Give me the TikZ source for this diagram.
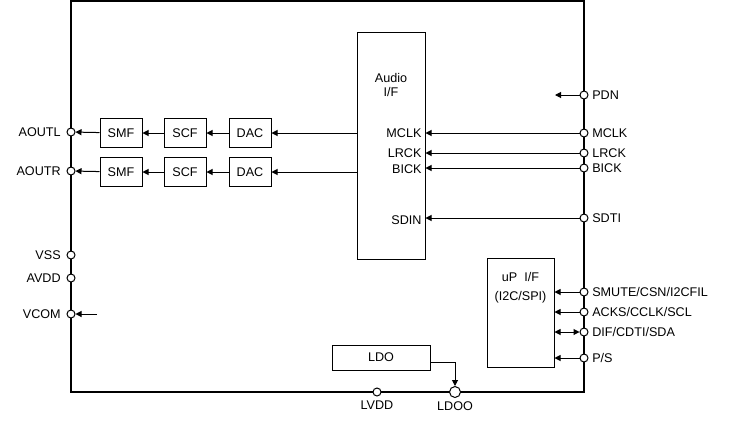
\documentclass[tikz,border=0pt]{standalone}
\usepackage{fontspec}
\setmainfont{Liberation Sans}
\usetikzlibrary{arrows.meta}

\begin{document}
\begin{tikzpicture}[x=1pt, y=-1pt, line width=1pt,
  every node/.style={font=\fontsize{12.6}{15}\selectfont},
  >={Triangle[length=6pt,width=6pt]},
  blk/.style={draw, minimum width=42pt, minimum height=29pt, inner sep=0pt},
  pinc/.style={draw, circle, fill=white, minimum size=8pt, inner sep=0pt}]
\useasboundingbox (0,0) rectangle (731,421);
% chip outline
\draw[line width=2pt] (71,1) rectangle (584,392);
% audio interface
\node[draw, minimum width=68pt, minimum height=227pt, inner sep=0pt] (aif) at (391,145.5) {};
\node (aif1) at (391,78) {Audio};
\node (aif2) at (391,92) {I/F};
\node[left, inner sep=1pt] (mclkin) at (423,133) {MCLK};
\node[left, inner sep=1pt] (lrckin) at (423,153) {LRCK};
\node[left, inner sep=1pt] (bickin) at (423,169) {BICK};
\node[left, inner sep=1pt] (sdin) at (423,220) {SDIN};
% output chains
\node[blk] (dac1) at (250,133) {DAC};
\node[blk] (scf1) at (185,133) {SCF};
\node[blk] (smf1) at (121,133) {SMF};
\node[blk] (dac2) at (250,172) {DAC};
\node[blk] (scf2) at (185,172) {SCF};
\node[blk] (smf2) at (121,172) {SMF};
% left pins
\node[pinc] (aoutl) at (71,132) {};
\node[pinc] (aoutr) at (71,171) {};
\node[pinc] (vss) at (71,255) {};
\node[pinc] (avdd) at (71,278) {};
\node[pinc] (vcom) at (71,314) {};
\node[left, xshift=-2pt] (aoutl-t) at (aoutl.west) {AOUTL};
\node[left, xshift=-2pt] (aoutr-t) at (aoutr.west) {AOUTR};
\node[left, xshift=-2pt] (vss-t) at (vss.west) {VSS};
\node[left, xshift=-2pt] (avdd-t) at (avdd.west) {AVDD};
\node[left, xshift=-2pt] (vcom-t) at (vcom.west) {VCOM};
\coordinate (vcomsrc) at (97,314);
\draw[->] (vcomsrc) -- (vcom);
\draw[->] (aif.west |- dac1) -- (dac1);
\draw[->] (dac1) -- (scf1);
\draw[->] (scf1) -- (smf1);
\draw[->] (smf1) -- (aoutl);
\draw[->] (aif.west |- dac2) -- (dac2);
\draw[->] (dac2) -- (scf2);
\draw[->] (scf2) -- (smf2);
\draw[->] (smf2) -- (aoutr);
% right pins
\node[pinc] (pdn) at (584,95) {};
\node[pinc] (mclk) at (584,133) {};
\node[pinc] (lrck) at (584,153) {};
\node[pinc] (bick) at (584,168) {};
\node[pinc] (sdti) at (584,218) {};
\node[pinc] (smute) at (584,292) {};
\node[pinc] (acks) at (584,312) {};
\node[pinc] (dif) at (584,332) {};
\node[pinc] (ps) at (584,358) {};
\node[right] (pdn-t) at (pdn.east) {PDN};
\node[right] (mclk-t) at (mclk.east) {MCLK};
\node[right] (lrck-t) at (lrck.east) {LRCK};
\node[right] (bick-t) at (bick.east) {BICK};
\node[right] (sdti-t) at (sdti.east) {SDTI};
\node[right] (smute-t) at (smute.east) {SMUTE/CSN/I2CFIL};
\node[right] (acks-t) at (acks.east) {ACKS/CCLK/SCL};
\node[right] (dif-t) at (dif.east) {DIF/CDTI/SDA};
\node[right] (ps-t) at (ps.east) {P/S};
\coordinate (pdnend) at (555,95);
\draw[->] (pdn) -- (pdnend);
\draw[->] (mclk) -- (aif.east |- mclk);
\draw[->] (lrck) -- (aif.east |- lrck);
\draw[->] (bick) -- (aif.east |- bick);
\draw[->] (sdti) -- (aif.east |- sdti);
% uP interface
\node[draw, minimum width=67pt, minimum height=109pt, inner sep=0pt] (upif) at (520.5,312.5) {};
\node (upif1) at (520.5,277) {uP\ \ I/F};
\node (upif2) at (520.5,297) {(I2C/SPI)};
\draw[->] (smute) -- (upif.east |- smute);
\draw[->] (acks) -- (upif.east |- acks);
\draw[<->] (dif) -- (upif.east |- dif);
\draw[->] (ps) -- (upif.east |- ps);
% LDO
\node[draw, minimum width=98pt, minimum height=25pt, inner sep=0pt] (ldo) at (381,357.5) {LDO};
\node[pinc] (lvdd) at (377,392) {};
\node[pinc, minimum size=11pt] (ldoo) at (455,392) {};
\node[below] (lvdd-t) at (lvdd.south) {LVDD};
\node[below] (ldoo-t) at (ldoo.south) {LDOO};
\draw[->] (ldo.east |- 0,362) -| (ldoo);
\end{tikzpicture}
\end{document}
